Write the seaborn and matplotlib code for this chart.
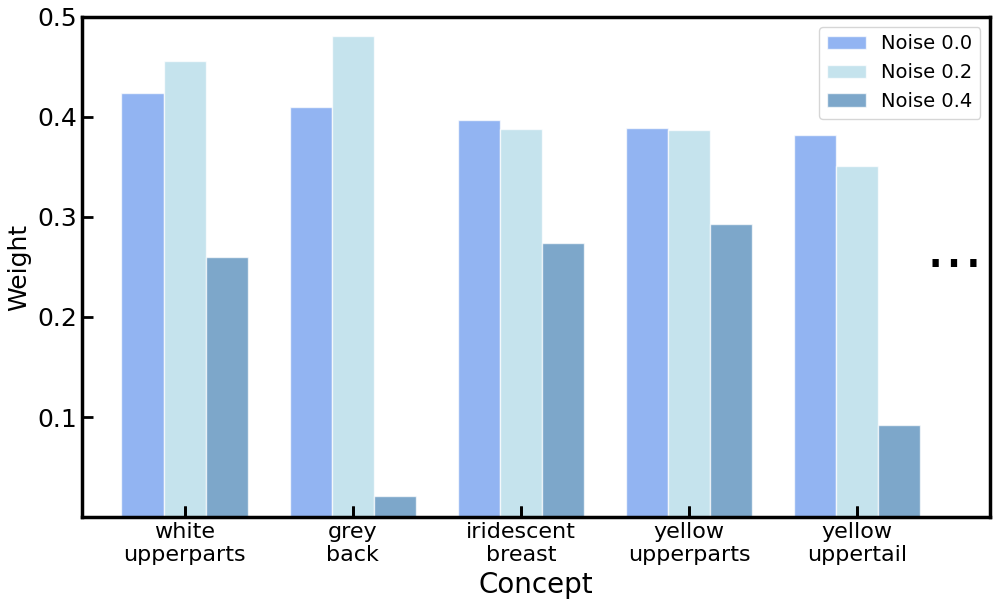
import pandas as pd
import seaborn as sns
import matplotlib.pyplot as plt
from matplotlib.markers import TICKUP

concepts = ['white\nupperparts', 'grey\nback', 'iridescent\nbreast',
            'yellow\nupperparts', 'yellow\nuppertail']
noise_labels = ['Noise 0.0', 'Noise 0.2', 'Noise 0.4']
w_noise00 = [0.424, 0.410, 0.397, 0.389, 0.382]
w_noise02 = [0.456, 0.481, 0.388, 0.387, 0.351]
w_noise04 = [0.260, 0.021, 0.274, 0.293, 0.092]
colors = ['cornflowerblue', 'lightblue', 'steelblue']

df = pd.DataFrame({
    'Concept': concepts * 3,
    'Weight': w_noise00 + w_noise02 + w_noise04,
    'noise': [n for n in noise_labels for _ in concepts],
})

plt.rcParams['font.family'] = ['DejaVu Sans']

fig = plt.figure(figsize=(9.97, 6.04), dpi=100)
ax = fig.add_axes([0.0822, 0.144, 0.911, 0.828])

sns.barplot(data=df, x='Concept', y='Weight', hue='noise',
            palette=colors, saturation=1, alpha=0.7, width=0.75,
            edgecolor='white', linewidth=1, ax=ax)

ax.set_ylim(0, 0.5)
ax.set_xlim(-0.61, 4.79)
ax.set_yticks([0.1, 0.2, 0.3, 0.4, 0.5])
ax.set_axisbelow(False)
ax.xaxis.set_tick_params(which='major', bottom=True, direction='in',
                         length=8, width=2, color='black', labelsize=16)
ax.yaxis.set_tick_params(which='major', left=True, direction='in',
                         length=8, width=2, color='black', labelsize=18)

# x tick marks drawn on top of the bars
ax.plot(range(len(concepts)), [0] * len(concepts), linestyle='none',
        marker=TICKUP, markersize=8, markeredgewidth=2, color='black',
        transform=ax.get_xaxis_transform(), clip_on=False, zorder=10)

for s in ax.spines.values():
    s.set_linewidth(2.5)
    s.set_color('black')
ax.set_xlabel('Concept', fontsize=20, labelpad=4)
ax.set_ylabel('Weight', fontsize=18)

ax.text(4.58, 0.250, '...', fontsize=44, ha='center', va='baseline')

ax.legend(loc='upper right', fontsize=14, title=None, frameon=True)

fig.savefig('out.png', dpi=100)
